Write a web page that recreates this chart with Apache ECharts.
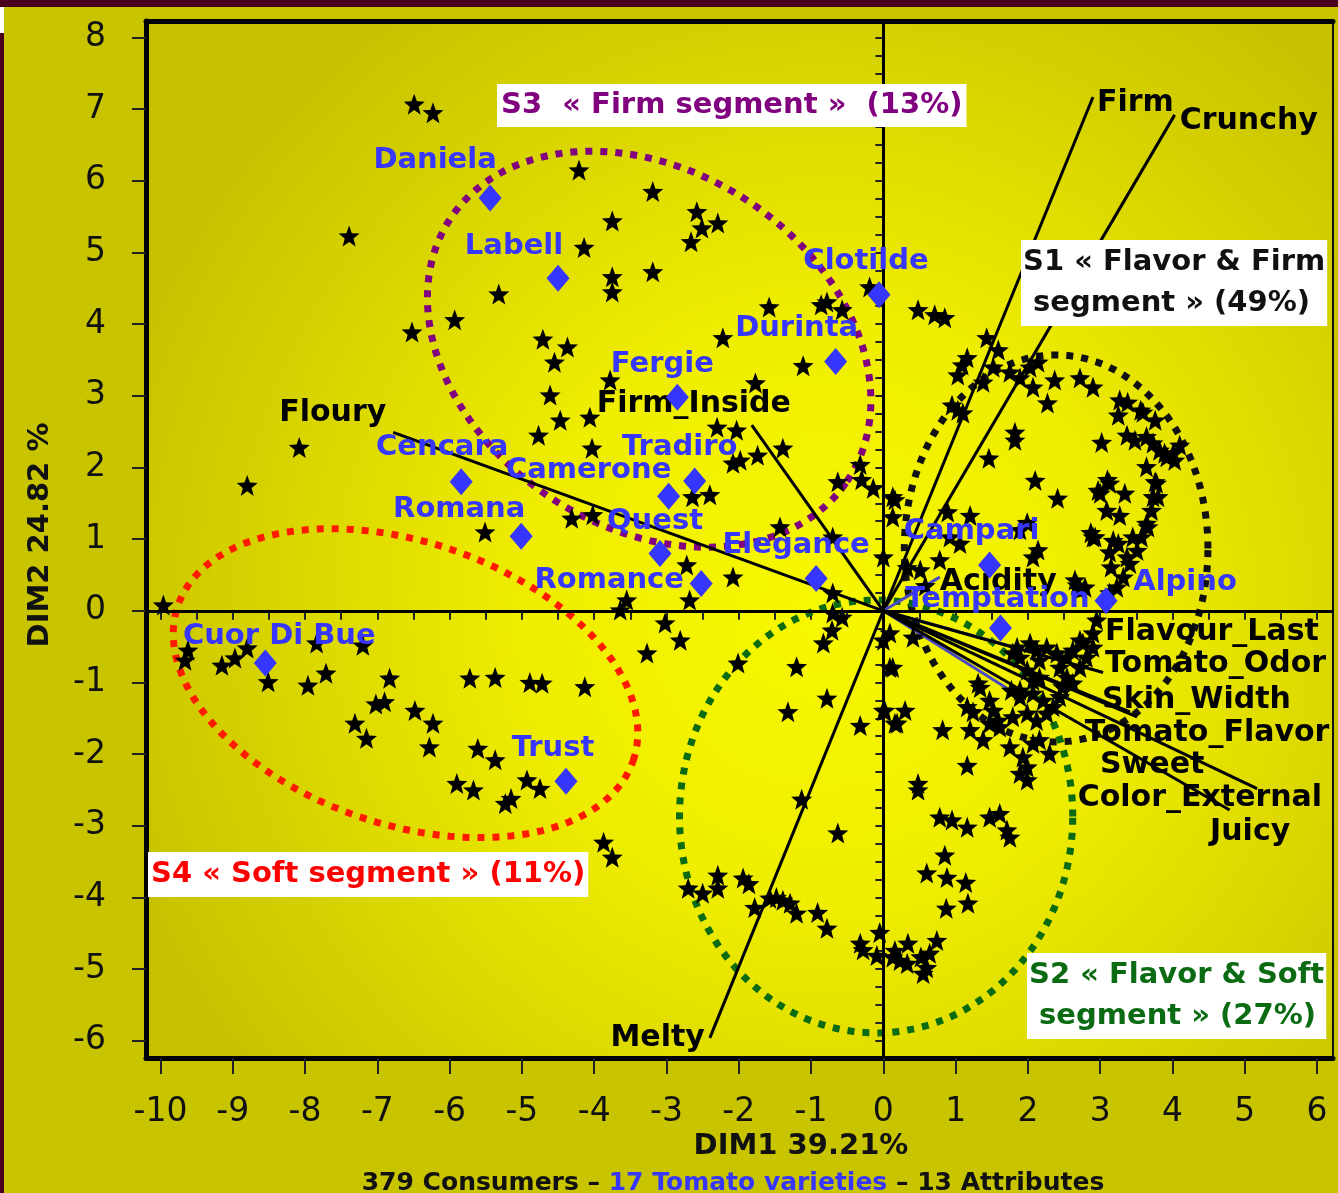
<!DOCTYPE html>
<html>
<head>
<meta charset="utf-8">
<script src="https://cdn.jsdelivr.net/npm/echarts@6/dist/echarts.min.js"></script>
<style>
html, body { margin: 0; padding: 0; background: #c8c400; }
#chart { width: 1338px; height: 1193px; }
</style>
</head>
<body>
<div id="chart"></div>
<script>
'use strict';

const FONT = '"DejaVu Sans", sans-serif';

// axis ticks
const xTicks = [-10, -9, -8, -7, -6, -5, -4, -3, -2, -1, 0, 1, 2, 3, 4, 5, 6];
const yTicks = [-6, -5, -4, -3, -2, -1, 0, 1, 2, 3, 4, 5, 6, 7, 8];

// consumers (DIM1, DIM2)
const consumers = [
    [-6.49, 7.07], [-6.23, 6.95], [-7.39, 5.23], [-6.52, 3.89], [-5.93, 4.06], [-8.08, 2.28], [-8.80, 1.75], [-9.96, 0.08],
    [-4.21, 6.15], [-3.19, 5.85], [-3.75, 5.44], [-2.58, 5.57], [-2.51, 5.34], [-2.29, 5.41], [-2.66, 5.15], [-4.14, 5.07],
    [-3.19, 4.73], [-3.75, 4.66], [-3.75, 4.45], [-5.32, 4.42], [-4.71, 3.79], [-4.37, 3.68], [-4.55, 3.47], [-1.58, 4.24],
    [-2.22, 3.81], [-0.86, 4.27], [-0.78, 4.31], [-0.57, 4.20], [-0.19, 4.52], [-1.11, 3.42], [-1.77, 3.18], [-3.78, 3.22],
    [-4.61, 3.01], [0.48, 4.20], [0.71, 4.13], [0.85, 4.09],
    [-4.47, 2.66], [-4.06, 2.70], [-4.77, 2.45], [-4.03, 2.27], [-4.31, 1.29], [-4.02, 1.34], [-5.51, 1.10], [-2.72, 0.64],
    [-2.64, 1.59], [-2.40, 1.62], [-2.08, 0.47], [-2.68, 0.15], [-3.55, 0.15], [-3.64, 0.01], [-3.02, -0.17], [-2.81, -0.41],
    [-3.27, -0.59], [-2.30, 2.56], [-2.03, 2.52], [-2.08, 2.06], [-1.98, 2.10], [-1.74, 2.17], [-1.39, 2.27], [-1.43, 1.17],
    [-0.70, 1.03], [-0.63, 1.80], [-0.32, 2.04], [-0.30, 1.83], [-0.14, 1.71], [-0.70, 0.25], [-0.70, -0.03], [-0.57, -0.09],
    [-0.71, -0.27], [-0.83, -0.45], [-1.20, -0.78], [-0.78, -1.22], [-1.32, -1.41], [-0.32, -1.60], [-2.01, -0.73],
    [0.00, 0.75], [0.00, -0.41], [0.13, -0.79], [0.00, -1.39], [0.19, -1.57], [0.13, 1.59], [0.13, 1.31], [0.33, 0.60], [0.58, 0.35],
    [-9.62, -0.55], [-9.66, -0.69], [-9.15, -0.76], [-8.97, -0.66], [-8.80, -0.52], [-8.51, -0.99], [-7.96, -1.04], [-7.71, -0.87],
    [-7.84, -0.45], [-7.20, -0.48], [-6.83, -0.94], [-7.02, -1.30], [-6.90, -1.27], [-6.48, -1.39], [-6.23, -1.57], [-7.31, -1.57],
    [-7.15, -1.78], [-6.28, -1.90], [-5.72, -0.94], [-5.37, -0.93], [-4.89, -1.00], [-4.72, -1.01], [-4.13, -1.06], [-5.61, -1.92],
    [-5.37, -2.08], [-4.93, -2.36], [-4.75, -2.48], [-5.90, -2.41], [-5.67, -2.50], [-5.23, -2.69], [-5.15, -2.62], [-3.87, -3.23], [-3.75, -3.44],
    [-1.13, -2.63], [-0.63, -3.10], [-2.70, -3.87], [-2.50, -3.94], [-2.29, -3.69], [-2.29, -3.87], [-1.94, -3.73], [-1.86, -3.81],
    [-1.78, -4.14], [-1.57, -4.01], [-1.48, -4.00], [-1.39, -4.04], [-1.29, -4.08], [-1.20, -4.22], [-0.91, -4.21], [-0.78, -4.43],
    [-0.32, -4.64], [-0.28, -4.73], [-0.05, -4.49], [-0.09, -4.81], [0.13, -4.83], [0.34, -4.64], [0.33, -4.92], [0.55, -5.06],
    [0.60, -4.98], [0.74, -4.60], [0.64, -4.78], [0.23, -4.88], [0.16, -4.74], [0.52, -4.83],
    [0.48, -2.50], [0.78, -2.88], [0.95, -2.92], [1.16, -3.02], [1.47, -2.88], [1.61, -2.83], [1.71, -3.06], [1.75, -3.16],
    [0.85, -3.41], [0.60, -3.66], [0.88, -3.72], [1.14, -3.79], [0.87, -4.15], [1.17, -4.08],
    [0.09, -0.31], [0.41, -0.37], [0.09, -0.79], [0.02, -1.39], [0.30, -1.39], [0.16, -1.57], [0.82, -1.66], [1.20, -1.66],
    [1.34, -1.07], [1.16, -2.16], [0.48, -2.41], [1.24, -1.41], [1.52, -1.39], [1.61, -1.62], [1.38, -1.80], [1.16, -1.34], [1.47, -1.25], [1.59, -1.53],
    [2.95, -0.13], [2.90, -0.31], [2.76, -0.45], [2.62, -0.55], [2.54, -0.65], [2.40, -0.59], [2.26, -0.51], [2.12, -0.55],
    [2.16, -0.69], [2.44, -0.79], [2.54, -0.93], [2.48, -1.06], [2.44, -1.20], [2.35, -1.34], [2.26, -1.43], [2.62, -1.01],
    [2.72, -0.79], [2.81, -0.65], [2.90, -0.51], [2.72, -0.41], [1.89, -0.65], [1.79, -0.59], [1.99, -0.83], [2.16, -0.93],
    [2.07, -1.15], [2.21, -1.25], [1.89, -1.20], [1.79, -1.48], [1.99, -1.43], [2.12, -1.53], [1.47, -1.57], [1.75, -1.90],
    [1.93, -2.04], [2.07, -1.85], [2.16, -1.80], [1.99, -2.18], [1.99, -2.36], [2.30, -1.99], [1.89, -2.27], [1.89, -1.11],
    [2.07, -0.97], [1.85, -0.51], [2.03, -0.45], [1.77, -1.11], [1.31, -1.01],
    [1.43, 3.81], [1.59, 3.64], [1.16, 3.53], [1.09, 3.43], [1.03, 3.29], [0.95, 2.87], [1.03, 2.80], [1.10, 2.76], [1.38, 3.19],
    [1.52, 3.40], [2.14, 3.47], [2.03, 3.40], [1.75, 3.33], [1.89, 3.25], [2.07, 3.12], [2.27, 2.90], [2.37, 3.22], [2.72, 3.25],
    [2.90, 3.12], [1.82, 2.49], [1.82, 2.38], [1.46, 2.13], [2.10, 1.82], [2.41, 1.57], [3.02, 2.35], [3.27, 2.94], [3.38, 2.91],
    [3.25, 2.73], [3.59, 2.77], [3.37, 2.45], [3.64, 2.43], [3.73, 2.34], [3.82, 2.24], [3.92, 2.15], [4.01, 2.20], [4.10, 2.31],
    [3.64, 2.01], [3.78, 1.78], [3.73, 1.59], [3.71, 1.40], [3.64, 1.22], [3.57, 1.03], [3.51, 0.84], [3.41, 0.66], [3.32, 0.47],
    [3.23, 0.33], [3.13, 0.25], [3.00, 1.64], [3.13, 1.78], [3.34, 1.64], [3.09, 1.40], [3.27, 1.33], [2.90, 1.03], [3.18, 0.98],
    [3.45, 1.03], [3.13, 0.82], [3.37, 0.75], [2.07, 0.75], [2.68, 0.36], [2.72, 0.29], [0.16, 1.55],
    [0.78, 0.71], [0.89, 1.38], [1.20, 1.33], [0.51, 0.57], [0.92, 1.03], [1.06, 0.94], [1.89, 1.13], [1.99, 1.23],
    [3.56, 2.80], [3.76, 2.66], [3.48, 2.38], [3.89, 2.20], [4.03, 2.10], [3.76, 1.80], [3.10, 1.83], [2.97, 1.68], [3.80, 1.59],
    [2.93, 1.03], [3.25, 0.94], [3.66, 1.17], [3.15, 0.61], [2.65, 0.43], [2.79, 0.33], [2.14, 0.85], [2.87, 1.09]
];

// tomato varieties
const varieties = ['Daniela', 'Labell', 'Clotilde', 'Durinta', 'Fergie', 'Cencara', 'Tradiro', 'Camerone', 'Romana',
    'Quest', 'Elegance', 'Romance', 'Campari', 'Alpino', 'Temptation', 'Cuor Di Bue', 'Trust'];
const varietyX = [-5.44, -4.50, -0.06, -0.66, -2.85, -5.84, -2.61, -2.97, -5.01, -3.09, -0.93, -2.52, 1.47, 3.08, 1.62, -8.55, -4.39];
const varietyY = [5.76, 4.64, 4.41, 3.48, 2.98, 1.80, 1.81, 1.60, 1.04, 0.80, 0.45, 0.38, 0.64, 0.14, -0.24, -0.73, -2.38];

// attributes (arrow ends)
const attributes = ['Firm', 'Crunchy', 'Floury', 'Firm_Inside', 'Melty', 'Acidity', 'Flavour_Last', 'Tomato_Odor',
    'Skin_Width', 'Tomato_Flavor', 'Sweet', 'Color_External', 'Juicy'];
const attrX = [2.90, 4.03, -6.78, -1.82, -2.40, 0.78, 2.07, 3.04, 3.51, 3.41, 1.71, 4.79, 5.17];
const attrY = [7.17, 6.92, 2.49, 2.59, -5.96, 0.47, -0.58, -0.86, -1.48, -1.41, -1.08, -2.78, -2.48];

// segments (ellipse centre, half axes, angle in degrees)
const segments = ['S1', 'S2', 'S3', 'S4'];
const segCX = [2.39, -0.10, -3.24, -6.61];
const segCY = [0.87, -2.87, 3.65, -1.01];
const segA = [2.10, 2.72, 3.30, 3.33];
const segB = [2.70, 3.02, 2.48, 1.97];
const segAngle = [0, 0, -34, -19];

// styling
const segColors = ['#111111', '#0b6b12', '#800080', '#ff1a00'];
const varietyLabelOffset = {
    'Daniela': [-55, -38], 'Labell': [-44, -32], 'Clotilde': [-13, -33], 'Durinta': [-39, -33], 'Fergie': [-15, -33],
    'Cencara': [-19, -34], 'Tradiro': [-15, -34], 'Camerone': [-80, -26], 'Romana': [-62, -27], 'Quest': [-5, -32],
    'Elegance': [-20, -33], 'Romance': [-92, -3], 'Campari': [-18, -33], 'Alpino': [79, -18], 'Temptation': [-3, -29],
    'Cuor Di Bue': [14, -27], 'Trust': [-13, -33]
};
const attrLabel = {
    'Firm': [4, 6, 'left'], 'Crunchy': [5, 6, 'left'], 'Floury': [-7, -19, 'right'], 'Firm_Inside': [-58, -21, 'center'],
    'Melty': [-5, 0, 'right'], 'Acidity': [0, 5, 'left'], 'Flavour_Last': [72, -20, 'left'], 'Tomato_Odor': [2, -8, 'left'],
    'Skin_Width': [-35, -17, 'left'], 'Tomato_Flavor': [-45, 21, 'left'], 'Sweet': [93, 77, 'left'],
    'Color_External': [-152, -12, 'left'], 'Juicy': [-47, 44, 'left']
};
const blueAttrs = ['Acidity', 'Flavour_Last', 'Sweet'];

const xMinor = [];
for (let v = -10; v <= 6; v += 0.5) xMinor.push(v);
const yMinor = [];
for (let v = -6; v <= 8; v += 0.25) yMinor.push(v);

const X_MIN = -10.2, X_MAX = 6.22, Y_MIN = -6.24, Y_MAX = 8.23;
const STAR = 'path://M50,0 L62.3,33 L97.6,34.5 L70,56.5 L79.4,90.5 L50,71 L20.6,90.5 L30,56.5 L2.4,34.5 L37.7,33 Z';

const chart = echarts.init(document.getElementById('chart'));

function xAxisOf(extra) {
    return Object.assign({
        type: 'value', min: X_MIN, max: X_MAX,
        splitLine: { show: false },
        axisLabel: { show: false },
        axisTick: { show: false },
        axisLine: { show: false }
    }, extra);
}
function yAxisOf(extra) {
    return Object.assign({
        type: 'value', min: Y_MIN, max: Y_MAX,
        splitLine: { show: false },
        axisLabel: { show: false },
        axisTick: { show: false },
        axisLine: { show: false }
    }, extra);
}

const option = {
    animation: false,
    backgroundColor: '#c8c400',
    grid: {
        left: 146, right: 5, top: 21, bottom: 135,
        show: true, borderWidth: 0,
        outerBoundsMode: 'none',
        backgroundColor: new echarts.graphic.RadialGradient(0.57, 0.57, 0.72, [
            { offset: 0, color: '#f8f800' },
            { offset: 0.4, color: '#efed00' },
            { offset: 1, color: '#c6c100' }
        ])
    },
    xAxis: [
        xAxisOf({
            position: 'bottom',
            axisLine: { show: true, onZero: false, lineStyle: { color: '#000', width: 5 } },
            axisTick: { show: true, customValues: xTicks, length: 16, lineStyle: { color: '#222', width: 2 } },
            axisLabel: { show: true, customValues: xTicks, margin: 38, fontSize: 33, color: '#111', fontFamily: FONT }
        }),
        xAxisOf({
            position: 'bottom',
            axisTick: { show: true, customValues: xMinor, length: 9, lineStyle: { color: '#222', width: 2 } }
        }),
        xAxisOf({
            position: 'top',
            axisLine: { show: true, onZero: false, lineStyle: { color: '#000', width: 5 } }
        })
    ],
    yAxis: [
        yAxisOf({
            position: 'left',
            axisLine: { show: true, onZero: false, lineStyle: { color: '#000', width: 5 } },
            axisTick: { show: true, customValues: yTicks, length: 14, lineStyle: { color: '#222', width: 2 } },
            axisLabel: { show: true, customValues: yTicks, margin: 40, fontSize: 33, color: '#111', fontFamily: FONT,
                padding: [16, 0, 0, 0] }
        }),
        yAxisOf({
            position: 'left',
            axisTick: { show: true, customValues: yMinor, length: 8, lineStyle: { color: '#222', width: 2 } }
        }),
        yAxisOf({
            position: 'right',
            axisLine: { show: true, onZero: false, lineStyle: { color: '#111', width: 2 } }
        })
    ],
    series: [
        {
            name: 'segments',
            type: 'custom',
            z: 2,
            silent: true,
            dimensions: ['cx', 'cy', 'a', 'b', 'ang'],
            encode: { x: 0, y: 1 },
            data: segments.map((s, i) => [segCX[i], segCY[i], segA[i], segB[i], segAngle[i]]),
            renderItem(params, api) {
                const cx = api.value(0), cy = api.value(1), a = api.value(2), b = api.value(3);
                const ang = api.value(4) * Math.PI / 180;
                const pts = [];
                for (let k = 0; k < 160; k++) {
                    const t = k / 160 * Math.PI * 2;
                    const ex = a * Math.cos(t), ey = b * Math.sin(t);
                    pts.push(api.coord([
                        cx + ex * Math.cos(ang) - ey * Math.sin(ang),
                        cy + ex * Math.sin(ang) + ey * Math.cos(ang)
                    ]));
                }
                return {
                    type: 'polygon',
                    shape: { points: pts },
                    style: { fill: 'none', stroke: segColors[params.dataIndex], lineWidth: 7, lineDash: [7, 8] }
                };
            },
            markLine: {
                silent: true,
                symbol: ['none', 'none'],
                label: { show: false },
                lineStyle: { color: '#000', width: 3, type: 'solid', opacity: 1 },
                data: [{ xAxis: 0 }, { yAxis: 0 }]
            }
        },
        {
            name: 'attributes',
            type: 'custom',
            z: 3,
            silent: true,
            encode: { x: 0, y: 1 },
            data: attributes.map((n, i) => [attrX[i], attrY[i]]),
            renderItem(params, api) {
                const name = attributes[params.dataIndex];
                const o = api.coord([0, 0]);
                const p = api.coord([api.value(0), api.value(1)]);
                const lab = attrLabel[name];
                const blue = blueAttrs.indexOf(name) >= 0;
                return {
                    type: 'group',
                    children: [
                        {
                            type: 'line',
                            shape: { x1: o[0], y1: o[1], x2: p[0], y2: p[1] },
                            style: { stroke: blue ? '#4a4ac8' : '#000', lineWidth: 3 }
                        },
                        {
                            type: 'text',
                            x: p[0] + lab[0],
                            y: p[1] + lab[1],
                            style: {
                                text: name, fill: '#000', font: 'bold 30px ' + FONT,
                                align: lab[2], verticalAlign: 'middle'
                            }
                        }
                    ]
                };
            }
        },
        {
            name: 'Consumers',
            type: 'scatter',
            z: 4,
            symbol: STAR,
            symbolSize: 21,
            itemStyle: { color: '#000', opacity: 1 },
            data: consumers
        },
        {
            name: 'Varieties',
            type: 'scatter',
            z: 5,
            symbol: 'diamond',
            symbolSize: [23, 27],
            itemStyle: { color: '#3636ff', opacity: 1 },
            label: {
                show: true, position: 'inside', formatter: '{b}',
                color: '#3636ff', fontFamily: FONT, fontWeight: 'bold', fontSize: 29
            },
            data: varieties.map((n, i) => ({
                name: n,
                value: [varietyX[i], varietyY[i]],
                label: { offset: varietyLabelOffset[n] }
            }))
        }
    ],
    graphic: [
        { type: 'rect', x: 0, y: 0, shape: { width: 1338, height: 7 }, style: { fill: '#4a001c' }, z: 100 },
        { type: 'rect', x: 0, y: 33, shape: { width: 4, height: 1160 }, style: { fill: '#4a001c' }, z: 100 },
        { type: 'rect', x: 0, y: 7, shape: { width: 4, height: 26 }, style: { fill: '#ffffff' }, z: 100 },
        {
            type: 'text', x: 40, y: 535, rotation: Math.PI / 2, z: 100,
            style: { text: 'DIM2 24.82 %', font: 'bold 29px ' + FONT, fill: '#111', align: 'center', verticalAlign: 'middle' }
        },
        {
            type: 'text', x: 801, y: 1146, z: 100,
            style: { text: 'DIM1 39.21%', font: 'bold 29px ' + FONT, fill: '#111', align: 'center', verticalAlign: 'middle' }
        },
        {
            type: 'text', x: 733, y: 1183, z: 100,
            style: {
                text: '{a|379 Consumers – }{b|17 Tomato varieties}{a| – 13 Attributes}',
                align: 'center', verticalAlign: 'middle',
                rich: {
                    a: { font: 'bold 25px ' + FONT, fill: '#111' },
                    b: { font: 'bold 25px ' + FONT, fill: '#3636ff' }
                }
            }
        },
        {
            type: 'text', x: 497, y: 84, z: 100,
            style: {
                text: 'S3  « Firm segment »  (13%)', font: 'bold 29px ' + FONT, fill: '#800080',
                backgroundColor: '#ffffff', padding: [4, 4, 4, 4], lineHeight: 35
            }
        },
        {
            type: 'text', x: 1021, y: 240, z: 100,
            style: {
                text: 'S1 « Flavor & Firm\n segment » (49%)', font: 'bold 29px ' + FONT, fill: '#111',
                backgroundColor: '#ffffff', padding: [2, 2, 2, 2], lineHeight: 41
            }
        },
        {
            type: 'text', x: 148, y: 852, z: 100,
            style: {
                text: 'S4 « Soft segment » (11%)', font: 'bold 29px ' + FONT, fill: '#ff0000',
                backgroundColor: '#ffffff', padding: [4, 3, 4, 3], lineHeight: 37
            }
        },
        {
            type: 'text', x: 1027, y: 953, z: 100,
            style: {
                text: 'S2 « Flavor & Soft\n segment » (27%)', font: 'bold 29px ' + FONT, fill: '#0b6b12',
                backgroundColor: '#ffffff', padding: [2, 2, 2, 2], lineHeight: 41
            }
        }
    ]
};

chart.setOption(option);
</script>
</body>
</html>
